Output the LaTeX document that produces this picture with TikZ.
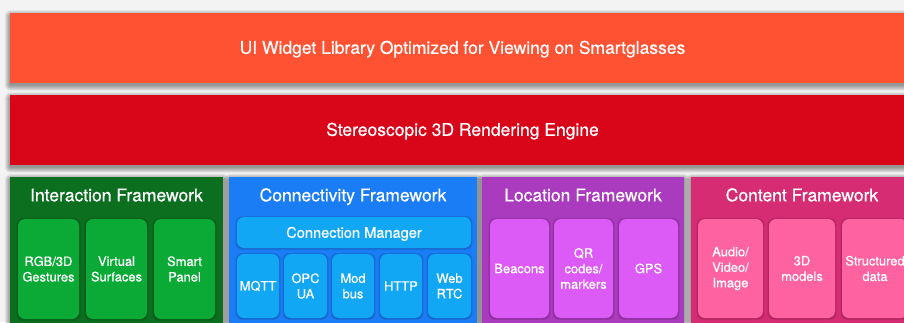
\documentclass[tikz,border=0pt]{standalone}
\usepackage{fontspec}
\setmainfont[FakeBold=0.5]{TeX Gyre Heros}
\pgfdeclarelayer{background}
\pgfdeclarelayer{frames}
\pgfsetlayers{background,frames,main}
\definecolor{bgc}{HTML}{F3F3F3}
\definecolor{uibar}{HTML}{FF5233}
\definecolor{rbar}{HTML}{D9061A}
\definecolor{gframe}{HTML}{0C6E1F}
\definecolor{ginner}{HTML}{0BAA36}
\definecolor{bframe}{HTML}{1B7DF6}
\definecolor{binner}{HTML}{12A7F5}
\definecolor{pframe}{HTML}{AA3ABE}
\definecolor{pinner}{HTML}{DC5AF5}
\definecolor{kframe}{HTML}{D62C74}
\definecolor{kinner}{HTML}{FF62A0}
\tikzset{
  box/.style={rectangle, inner sep=0pt, text=white, align=center},
  bigtext/.style={font=\fontsize{17.5}{21}\selectfont, text height=12.6pt, text depth=0pt},
  smalltext/.style={font=\fontsize{12.9}{15.5}\selectfont},
  inner/.style={box, smalltext, rounded corners=7pt},
}
\newcommand\blurshadow[2]{%
  \foreach \i in {1,...,6}{%
    \fill[black,opacity=0.075,rounded corners=\i pt]
      ([xshift=-\i pt+1pt,yshift=-#2+\i pt-1pt]#1.north west) rectangle
      ([xshift=\i pt-1pt,yshift=-#2-\i pt+1pt]#1.south east);
  }%
}
\newcommand\thinshadow[1]{%
  \foreach \i in {1,2}{%
    \fill[black,opacity=0.09,rounded corners=7pt]
      ([xshift=-\i pt+0.5pt,yshift=-0.5pt+\i pt-0.5pt]#1.north west) rectangle
      ([xshift=\i pt-0.5pt,yshift=-0.5pt-\i pt+0.5pt]#1.south east);
  }%
}
\begin{document}
\begin{tikzpicture}[x=1pt,y=-1pt]
\useasboundingbox (0,0) rectangle (904,322);
\clip (0,0) rectangle (904,322);

% bars
\node[box,bigtext,fill=uibar,minimum width=905pt,minimum height=70pt] (ui) at (462.5,47.5)
  {UI Widget Library Optimized for Viewing on Smartglasses};
\node[box,bigtext,fill=rbar,minimum width=905pt,minimum height=70pt] (render) at (462.5,129.5)
  {Stereoscopic 3D Rendering Engine};

% frames
\begin{pgfonlayer}{frames}
\node[box,fill=gframe,minimum width=213pt,minimum height=170pt,anchor=north west] (gfr) at (10,177) {};
\node[box,fill=bframe,minimum width=248pt,minimum height=170pt,anchor=north west] (bfr) at (229,177) {};
\node[box,fill=pframe,minimum width=202pt,minimum height=170pt,anchor=north west] (pfr) at (482,177) {};
\node[box,fill=kframe,minimum width=222pt,minimum height=170pt,anchor=north west] (kfr) at (691,177) {};
\end{pgfonlayer}

\node[box,bigtext] (gt) at (116.5,195) {Interaction Framework};
\node[box,bigtext] (bt) at (353,195) {Connectivity Framework};
\node[box,bigtext] (pt) at (583,195) {Location Framework};
\node[box,bigtext] (kt) at (802,195) {Content Framework};

% interaction
\node[inner,fill=ginner,minimum width=61pt,minimum height=100pt] (rgb) at (48.5,269) {RGB/3D\\Gestures};
\node[inner,fill=ginner,minimum width=61pt,minimum height=100pt] (virt) at (116.5,269) {Virtual\\Surfaces};
\node[inner,fill=ginner,minimum width=61pt,minimum height=100pt] (smart) at (184.5,269) {Smart\\Panel};

% connectivity
\node[inner,fill=binner,minimum width=234pt,minimum height=31pt,
  font=\fontsize{14.6}{17}\selectfont,text height=10.5pt,text depth=0pt] (cm) at (354,232.5) {Connection Manager};
\node[inner,fill=binner,minimum width=42pt,minimum height=64pt] (mqtt) at (258,286) {MQTT};
\node[inner,fill=binner,minimum width=43pt,minimum height=64pt] (opc) at (305.5,286) {OPC\\UA};
\node[inner,fill=binner,minimum width=42pt,minimum height=64pt] (mod) at (353,286) {Mod\\bus};
\node[inner,fill=binner,minimum width=42pt,minimum height=64pt] (http) at (401,286) {HTTP};
\node[inner,fill=binner,minimum width=43pt,minimum height=64pt] (web) at (449.5,286) {Web\\RTC};

% location
\node[inner,fill=pinner,minimum width=59pt,minimum height=99pt] (beac) at (519.5,268.5) {Beacons};
\node[inner,fill=pinner,minimum width=59pt,minimum height=99pt] (qr) at (583.5,268.5) {QR\\codes/\\markers};
\node[inner,fill=pinner,minimum width=59pt,minimum height=99pt] (gps) at (648.5,268.5) {GPS};

% content
\node[inner,fill=kinner,minimum width=65pt,minimum height=99pt] (av) at (730.5,268.5) {Audio/\\Video/\\Image};
\node[inner,fill=kinner,minimum width=66pt,minimum height=99pt] (models) at (802,268.5) {3D\\models};
\node[inner,fill=kinner,minimum width=66pt,minimum height=99pt] (sdata) at (875,268.5) {Structured\\data};

\begin{pgfonlayer}{frames}
  \foreach \n in {rgb,virt,smart,cm,mqtt,opc,mod,http,web,beac,qr,gps,av,models,sdata}{\thinshadow{\n}}
\end{pgfonlayer}

\begin{pgfonlayer}{background}
  \fill[bgc] (0,0) rectangle (904,322);
  \blurshadow{ui}{3pt}
  \blurshadow{render}{3pt}
  \blurshadow{gfr}{2pt}
  \blurshadow{bfr}{2pt}
  \blurshadow{pfr}{2pt}
  \blurshadow{kfr}{2pt}
\end{pgfonlayer}
\end{tikzpicture}
\end{document}
